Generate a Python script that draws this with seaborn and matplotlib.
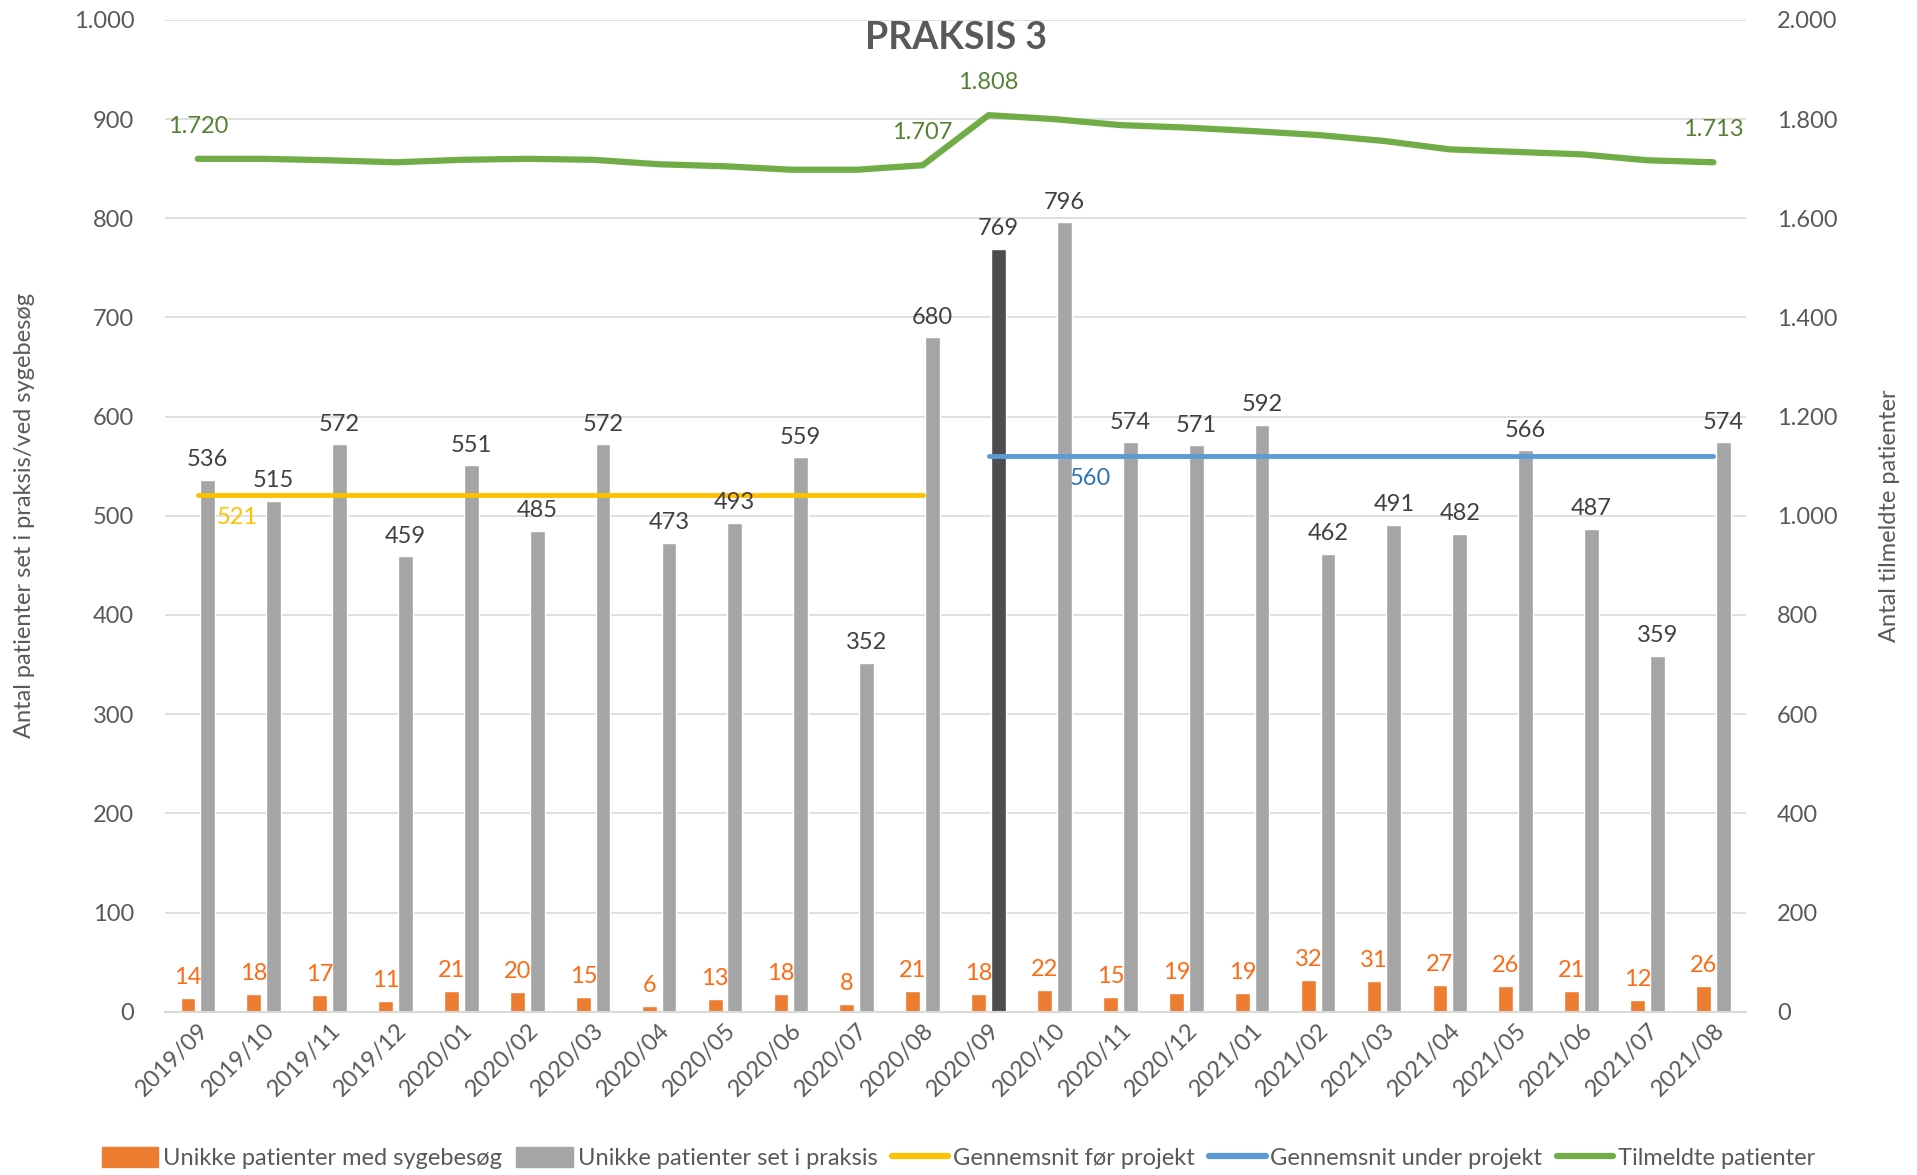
import numpy as np
import pandas as pd
import matplotlib
matplotlib.use('Agg')
import matplotlib.pyplot as plt
from matplotlib.patches import Patch
from matplotlib.lines import Line2D
from matplotlib.ticker import FuncFormatter, MultipleLocator
import seaborn as sns

# data
months = ['2019/09', '2019/10', '2019/11', '2019/12', '2020/01', '2020/02', '2020/03',
          '2020/04', '2020/05', '2020/06', '2020/07', '2020/08', '2020/09', '2020/10',
          '2020/11', '2020/12', '2021/01', '2021/02', '2021/03', '2021/04', '2021/05',
          '2021/06', '2021/07', '2021/08']
sick_visits = [14, 18, 17, 11, 21, 20, 15, 6, 13, 18, 8, 21, 18, 22, 15, 19, 19, 32,
               31, 27, 26, 21, 12, 26]
seen = [536, 515, 572, 459, 551, 485, 572, 473, 493, 559, 352, 680, 769, 796, 574,
        571, 592, 462, 491, 482, 566, 487, 359, 574]
registered = [1720, 1720, 1717, 1713, 1718, 1720, 1718, 1709, 1705, 1698, 1698, 1707,
              1808, 1800, 1788, 1783, 1776, 1768, 1756, 1739, 1734, 1729, 1717, 1713]
avg_before = 521
avg_during = 560
project_start = 12
labelled_registered = [0, 11, 12, 23]

series_names = ['Unikke patienter med sygebesøg', 'Unikke patienter set i praksis',
                'Gennemsnit før projekt', 'Gennemsnit under projekt', 'Tilmeldte patienter']

ORANGE = '#ED7D31'
GRAY = '#A5A5A5'
DARK = '#4D4D4D'
YELLOW = '#FFC000'
BLUE = '#5B9BD5'
GREEN = '#70AD47'
TXT = '#595959'
FS = 17

sns.set_style('white')
plt.rcParams['font.family'] = ['Lato', 'DejaVu Sans']

df = pd.DataFrame({
    'month': months * 2,
    'series': [series_names[0]] * len(months) + [series_names[1]] * len(months),
    'value': sick_visits + seen,
})

fig = plt.figure(figsize=(19.17, 11.75), dpi=100)
ax = fig.add_axes([0.086, 0.139, 0.825, 0.844])

sns.barplot(data=df, x='month', y='value', hue='series', palette=[ORANGE, GRAY],
            width=0.6, gap=0.25, saturation=1, errorbar=None, legend=False, ax=ax)

# highlight the project start month
ax.containers[1][project_start].set_facecolor(DARK)

x = np.arange(len(months))
pre = x < project_start
sns.lineplot(x=x[pre], y=[avg_before] * pre.sum(), color=YELLOW, lw=3.5, ax=ax)
sns.lineplot(x=x[~pre], y=[avg_during] * (~pre).sum(), color=BLUE, lw=3.5, ax=ax)

fmt = lambda v: f'{int(v):,}'.replace(',', '.')

# value labels
for bar, v in zip(ax.containers[0], sick_visits):
    ax.annotate(str(v), (bar.get_x() + bar.get_width() / 2, bar.get_height()),
                xytext=(0, 7), textcoords='offset points', ha='center', va='bottom',
                fontsize=FS, color='#FF6A13')
for bar, v in zip(ax.containers[1], seen):
    ax.annotate(str(v), (bar.get_x() + bar.get_width() / 2, bar.get_height()),
                xytext=(0, 7), textcoords='offset points', ha='center', va='bottom',
                fontsize=FS, color='#404040')

ax.text(0.6, avg_before - 12, str(avg_before), color=YELLOW, fontsize=FS, ha='center', va='top')
ax.text(13.55, avg_during - 12, str(avg_during), color='#2E75B6', fontsize=FS, ha='center', va='top')

ax.set_ylim(0, 1000)
ax.yaxis.set_major_locator(MultipleLocator(100))
ax.yaxis.set_major_formatter(FuncFormatter(lambda v, p: fmt(v)))
ax.grid(axis='y', color='#D9D9D9', lw=1.2)
ax.set_axisbelow(True)
ax.set_xlabel('')
ax.set_ylabel('Antal patienter set i praksis/ved sygebesøg', fontsize=FS, color=TXT, labelpad=28)
ax.tick_params(axis='y', labelsize=FS, labelcolor=TXT, length=0, pad=22)
ax.tick_params(axis='x', labelsize=FS, labelcolor=TXT, length=0, pad=6)
for lab in ax.get_xticklabels():
    lab.set_rotation(45)
    lab.set_ha('right')
    lab.set_rotation_mode('anchor')
for s in ['top', 'left', 'right']:
    ax.spines[s].set_visible(False)
ax.spines['bottom'].set_color('#D9D9D9')
ax.spines['bottom'].set_linewidth(1.5)

# registered patients on secondary axis
ax2 = ax.twinx()
sns.lineplot(x=x, y=registered, color=GREEN, lw=4.5, ax=ax2)
for i in labelled_registered:
    ax2.annotate(fmt(registered[i]), (x[i], registered[i]), xytext=(0, 16),
                 textcoords='offset points', ha='center', va='bottom',
                 fontsize=FS, color='#548235')
ax2.set_ylim(0, 2000)
ax2.yaxis.set_major_locator(MultipleLocator(200))
ax2.yaxis.set_major_formatter(FuncFormatter(lambda v, p: fmt(v)))
ax2.tick_params(axis='y', labelsize=FS, labelcolor=TXT, length=0, pad=22)
ax2.set_ylabel('Antal tilmeldte patienter', fontsize=FS, color=TXT, labelpad=30)
for s in ax2.spines.values():
    s.set_visible(False)
ax.set_xlim(-0.5, len(months) - 0.5)

ax.text(0.5, 0.9815, 'PRAKSIS 3', transform=ax.transAxes, ha='center', va='center',
        fontsize=27, fontweight='bold', color=TXT)

handles = [Patch(color=ORANGE), Patch(color=GRAY),
           Line2D([], [], color=YELLOW, lw=4.5), Line2D([], [], color=BLUE, lw=4.5),
           Line2D([], [], color=GREEN, lw=4.5)]
leg = fig.legend(handles, series_names, loc='lower center', bbox_to_anchor=(0.5, -0.013),
                 ncol=5, frameon=False, fontsize=FS, handlelength=2.4, handleheight=0.9,
                 handletextpad=0.2, columnspacing=0.6)
for t in leg.get_texts():
    t.set_color(TXT)

fig.savefig('out.png', dpi=100)
